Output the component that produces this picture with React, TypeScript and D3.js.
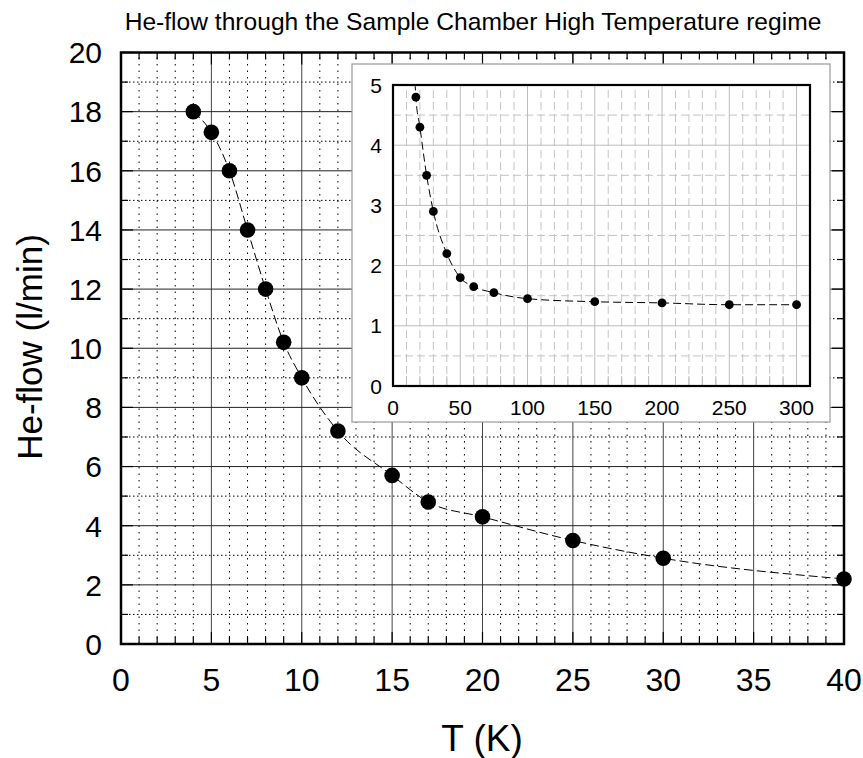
import React from "react";
import * as d3 from "d3";

// measured data: temperature (K) vs He-flow (l/min)
const temps = [4, 5, 6, 7, 8, 9, 10, 12, 15, 17, 20, 25, 30, 40, 50, 60, 75, 100, 150, 200, 250, 300];
const flows = [18, 17.3, 16, 14, 12, 10.2, 9, 7.2, 5.7, 4.8, 4.3, 3.5, 2.9, 2.2, 1.8, 1.65, 1.55, 1.45, 1.4, 1.38, 1.35, 1.35];

const xTicks = [0, 5, 10, 15, 20, 25, 30, 35, 40];
const yTicks = [0, 2, 4, 6, 8, 10, 12, 14, 16, 18, 20];
const insetXTicks = [0, 50, 100, 150, 200, 250, 300];
const insetYTicks = [0, 1, 2, 3, 4, 5];

const title = "He-flow through the Sample Chamber High Temperature regime";
const xLabel = "T (K)";
const yLabel = "He-flow  (l/min)";

const W = 863,
  H = 758;
const FONT = "'Liberation Sans', Arial, sans-serif";

const App = () => {
  const data = temps.map((t, i) => ({ t, f: flows[i] }));

  const x = d3.scaleLinear().domain([0, 40]).range([121, 844]);
  const y = d3.scaleLinear().domain([0, 20]).range([644, 52.5]);
  const ix = d3.scaleLinear().domain([0, 310]).range([393, 810]);
  const iy = d3.scaleLinear().domain([0, 5]).range([386, 85]);

  const line = d3
    .line<{ t: number; f: number }>()
    .x((d) => x(d.t))
    .y((d) => y(d.f))
    .curve(d3.curveMonotoneX);
  const insetLine = d3
    .line<{ t: number; f: number }>()
    .x((d) => ix(d.t))
    .y((d) => iy(d.f))
    .curve(d3.curveMonotoneX);

  const [x0, x1] = x.range();
  const [y0, y1] = y.range();
  const [ix0, ix1] = ix.range();
  const [iy0, iy1] = iy.range();

  const minorX = d3.range(1, 40).filter((v) => v % 5 !== 0);
  const minorY = d3.range(1, 20, 2);
  const insetMinorX = d3.range(10, 310, 10).filter((v) => v % 50 !== 0);
  const insetMinorY = d3.range(0.5, 5, 1);

  return (
    <svg width={W} height={H} style={{ position: "absolute", left: 0, top: 0 }} fontFamily={FONT}>
      <rect width={W} height={H} fill="#fff" />

      <text x={473} y={30} fontSize={24.6} textAnchor="middle">
        {title}
      </text>

      {/* main grid */}
      <g>
        {minorX.map((v) => (
          <line key={"mx" + v} x1={x(v)} x2={x(v)} y1={y0} y2={y1} stroke="#000" strokeWidth={1} strokeDasharray="1.5,5" />
        ))}
        {minorY.map((v) => (
          <line key={"my" + v} x1={x0} x2={x1} y1={y(v)} y2={y(v)} stroke="#000" strokeWidth={1} strokeDasharray="1.5,2.5" />
        ))}
        {xTicks.map((v) => (
          <line key={"gx" + v} x1={x(v)} x2={x(v)} y1={y0} y2={y1} stroke="#444" strokeWidth={1} />
        ))}
        {yTicks.map((v) => (
          <line key={"gy" + v} x1={x0} x2={x1} y1={y(v)} y2={y(v)} stroke="#222" strokeWidth={1} />
        ))}
      </g>

      {/* main ticks */}
      <g stroke="#000" strokeWidth={1.2}>
        {d3.range(0, 41).map((v) => {
          const len = v % 5 === 0 ? 12 : 7;
          return (
            <g key={"tx" + v}>
              <line x1={x(v)} x2={x(v)} y1={y0} y2={y0 - len} />
              <line x1={x(v)} x2={x(v)} y1={y1} y2={y1 + len} />
            </g>
          );
        })}
        {d3.range(0, 21).map((v) => {
          const len = v % 2 === 0 ? 12 : 7;
          return (
            <g key={"ty" + v}>
              <line x1={x0} x2={x0 + len} y1={y(v)} y2={y(v)} />
              <line x1={x1} x2={x1 - len} y1={y(v)} y2={y(v)} />
            </g>
          );
        })}
      </g>

      <defs>
        <clipPath id="mainClip">
          <rect x={x0} y={y1} width={x1 - x0} height={y0 - y1} />
        </clipPath>
        <clipPath id="insetClip">
          <rect x={ix0} y={iy1} width={ix1 - ix0} height={iy0 - iy1} />
        </clipPath>
      </defs>

      <path
        d={line(data.filter((d) => d.t <= 40)) || ""}
        fill="none"
        stroke="#000"
        strokeWidth={1}
        strokeDasharray="9,4"
        clipPath="url(#mainClip)"
      />
      {data
        .filter((d) => d.t <= 40)
        .map((d) => (
          <circle key={"p" + d.t} cx={x(d.t)} cy={y(d.f)} r={7.8} fill="#000" />
        ))}

      <rect x={x0} y={y1} width={x1 - x0} height={y0 - y1} fill="none" stroke="#000" strokeWidth={2.5} />

      {xTicks.map((v) => (
        <text key={"lx" + v} x={x(v)} y={691} fontSize={32} textAnchor="middle">
          {v}
        </text>
      ))}
      {yTicks.map((v) => (
        <text key={"ly" + v} x={102} y={y(v)} dy="0.36em" fontSize={30} textAnchor="end">
          {v}
        </text>
      ))}

      <text x={482} y={751} fontSize={37} textAnchor="middle">
        {xLabel}
      </text>
      <text transform="translate(42,347) rotate(-90)" fontSize={35} textAnchor="middle">
        {yLabel}
      </text>

      {/* inset */}
      <rect x={352} y={64} width={478} height={358} fill="#fff" stroke="#999" strokeWidth={1.2} />
      <g>
        {insetMinorX.map((v) => (
          <line key={"imx" + v} x1={ix(v)} x2={ix(v)} y1={iy0} y2={iy1} stroke="#c4c4c4" strokeWidth={1} strokeDasharray="8,4" />
        ))}
        {insetMinorY.map((v) => (
          <line key={"imy" + v} x1={ix0} x2={ix1} y1={iy(v)} y2={iy(v)} stroke="#c4c4c4" strokeWidth={1} strokeDasharray="8,4" />
        ))}
        {insetXTicks.map((v) => (
          <line key={"igx" + v} x1={ix(v)} x2={ix(v)} y1={iy0} y2={iy1} stroke="#bdbdbd" strokeWidth={1} />
        ))}
        {insetYTicks.map((v) => (
          <line key={"igy" + v} x1={ix0} x2={ix1} y1={iy(v)} y2={iy(v)} stroke="#bdbdbd" strokeWidth={1} />
        ))}
        {insetMinorX.map((v) => (
          <line key={"itx" + v} x1={ix(v)} x2={ix(v)} y1={iy0} y2={iy0 - 10} stroke="#bdbdbd" strokeWidth={1} />
        ))}
      </g>

      <path
        d={insetLine(data) || ""}
        fill="none"
        stroke="#000"
        strokeWidth={1}
        strokeDasharray="8,4"
        clipPath="url(#insetClip)"
      />
      {data
        .filter((d) => d.f <= 5)
        .map((d) => (
          <circle key={"ip" + d.t} cx={ix(d.t)} cy={iy(d.f)} r={4.4} fill="#000" />
        ))}

      <rect x={ix0} y={iy1} width={ix1 - ix0} height={iy0 - iy1} fill="none" stroke="#000" strokeWidth={2.2} />

      {insetXTicks.map((v) => (
        <text key={"ilx" + v} x={ix(v)} y={415} fontSize={21} textAnchor="middle">
          {v}
        </text>
      ))}
      {insetYTicks.map((v) => (
        <text key={"ily" + v} x={382} y={iy(v)} dy="0.36em" fontSize={21} textAnchor="end">
          {v}
        </text>
      ))}
    </svg>
  );
};

export default App;
